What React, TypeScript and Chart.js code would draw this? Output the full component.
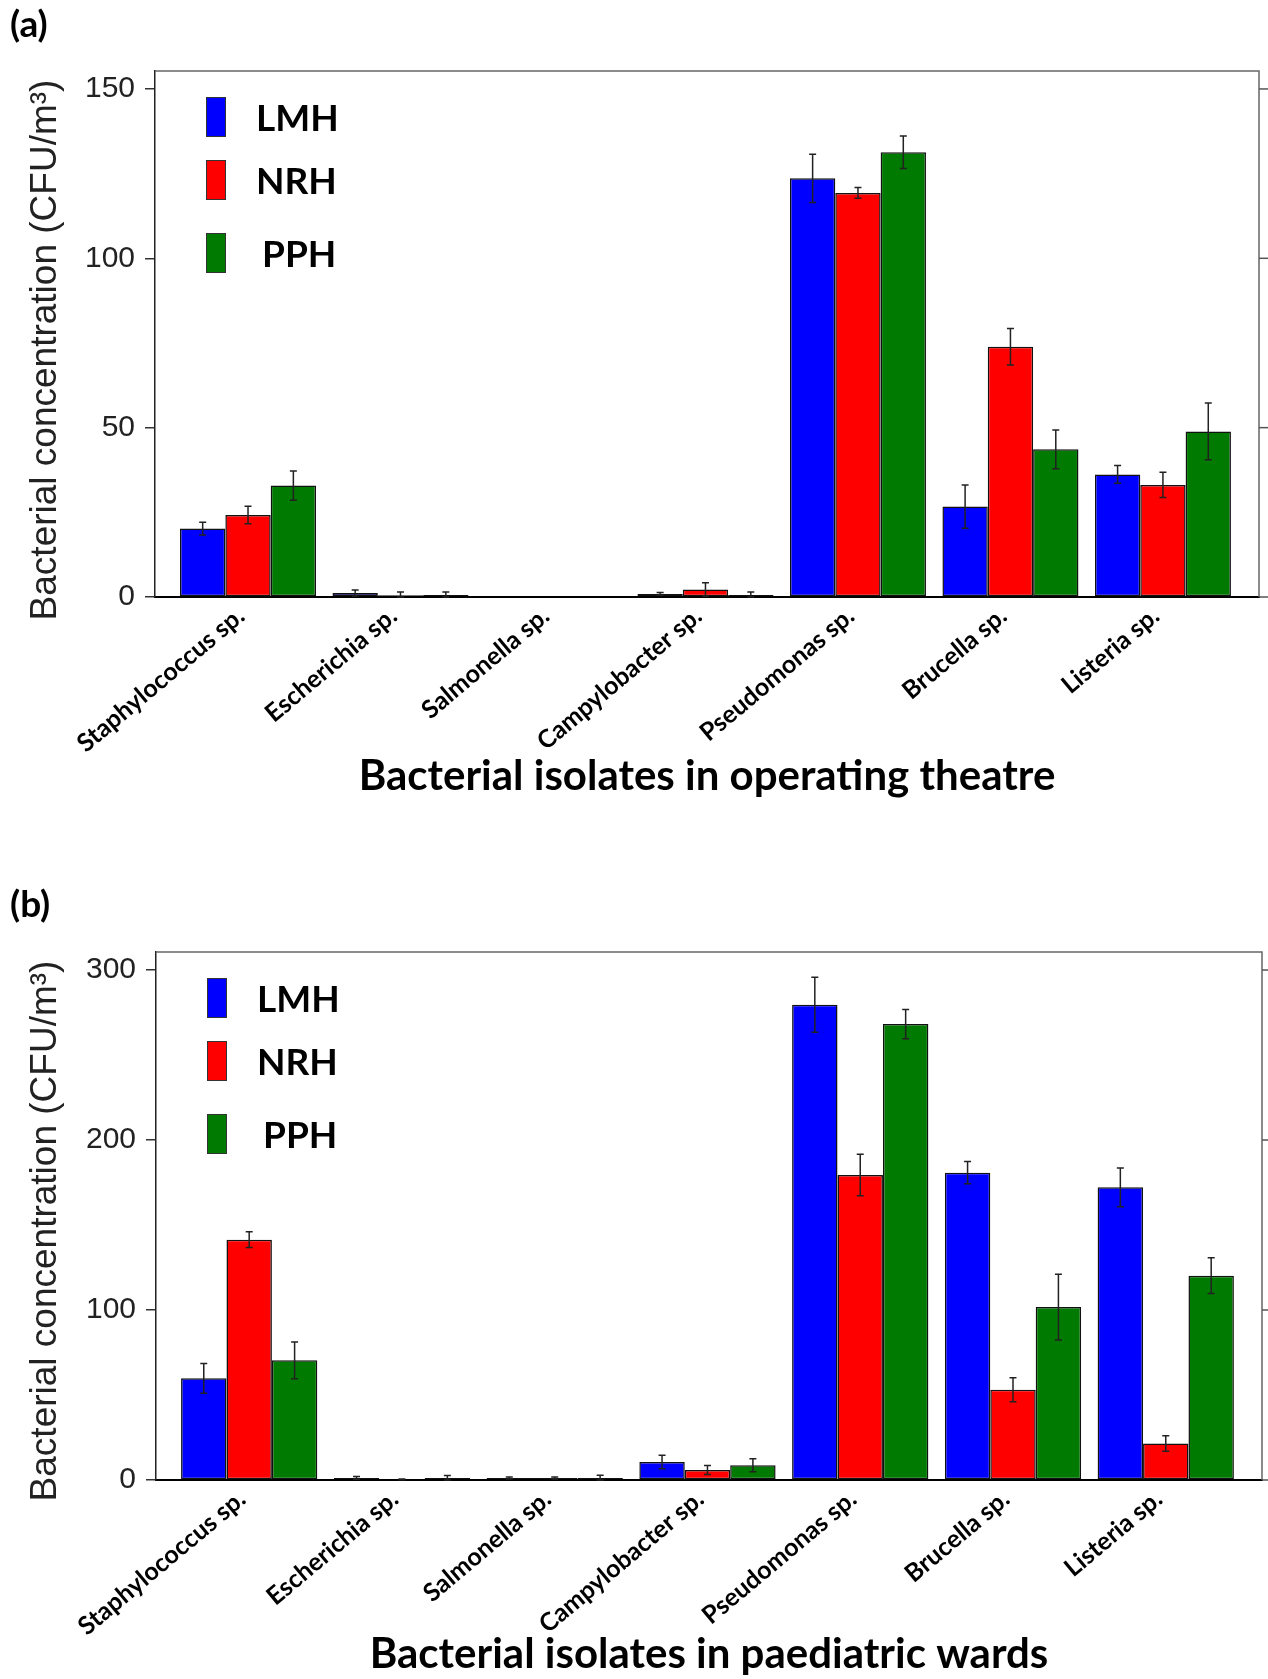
import React, { useEffect, useRef } from 'react';
import { Chart, registerables } from 'chart.js';

Chart.register(...registerables);

// ---------- data ----------
const categories = [
  'Staphylococcus sp.',
  'Escherichia sp.',
  'Salmonella sp.',
  'Campylobacter sp.',
  'Pseudomonas sp.',
  'Brucella sp.',
  'Listeria sp.',
];
const seriesNames = ['LMH', 'NRH', 'PPH'];
const seriesColors = ['#0000FF', '#FF0000', '#007A00'];

// (a) operating theatre
const theatreLMH = [20.2, 1.2, 0, 0.9, 123.6, 26.7, 36.2];
const theatreNRH = [24.2, 0.5, 0, 2.2, 119.3, 73.9, 33.1];
const theatrePPH = [32.9, 0.6, 0, 0.6, 131.3, 43.6, 48.9];
const theatreLMHErr = [1.9, 0.9, 0, 0.4, 7.1, 6.4, 2.6];
const theatreNRHErr = [2.6, 1.0, 0, 2.0, 1.6, 5.4, 3.7];
const theatrePPHErr = [4.3, 0.9, 0, 0.9, 4.8, 5.7, 8.4];
const theatreTicks = [0, 50, 100, 150];

// (b) paediatric wards
const wardsLMH = [59.8, 1.2, 1.2, 10.6, 279.6, 180.8, 172.2];
const wardsNRH = [141.4, 0.4, 1.2, 5.9, 179.4, 53.1, 21.5];
const wardsPPH = [70.4, 1.2, 1.2, 8.7, 268.2, 101.7, 120.2];
const wardsLMHErr = [8.7, 0.8, 0.6, 4.0, 16.2, 6.6, 11.4];
const wardsNRHErr = [4.6, 0.2, 0.6, 2.7, 12.2, 7.0, 4.6];
const wardsPPHErr = [10.8, 1.5, 1.6, 3.8, 8.6, 19.4, 10.5];
const wardsTicks = [0, 100, 200, 300];

const yTitle = 'Bacterial concentration (CFU/m\u00B3)';

type Spec = {
  tag: string;
  xTitle: string;
  values: number[][];
  errors: number[][];
  yTicks: number[];
  yMax: number;
  top: number;
  height: number;
  area: { left: number; right: number; top: number; bottom: number };
  xMin: number;
  xMax: number;
  tagY: number;
  titleY: number;
  yTitleY: number;
};

const W = 1268;
const X_AXIS_H = 190;

const panels: Spec[] = [
  {
    tag: '(a)',
    xTitle: 'Bacterial isolates in operating theatre',
    values: [theatreLMH, theatreNRH, theatrePPH],
    errors: [theatreLMHErr, theatreNRHErr, theatrePPHErr],
    yTicks: theatreTicks,
    yMax: 155.3,
    top: 0,
    height: 820,
    area: { left: 155, right: 1259, top: 71, bottom: 597 },
    xMin: -0.61,
    xMax: 6.63,
    tagY: 37,
    titleY: 790,
    yTitleY: 350,
  },
  {
    tag: '(b)',
    xTitle: 'Bacterial isolates in paediatric wards',
    values: [wardsLMH, wardsNRH, wardsPPH],
    errors: [wardsLMHErr, wardsNRHErr, wardsPPHErr],
    yTicks: wardsTicks,
    yMax: 310.6,
    top: 820,
    height: 859,
    area: { left: 156, right: 1262, top: 132, bottom: 660 },
    xMin: -0.61,
    xMax: 6.63,
    tagY: 97,
    titleY: 848,
    yTitleY: 411,
  },
];

function makeDecor(spec: Spec) {
  return {
    id: 'decor',
    afterDatasetsDraw(chart: any) {
      const ctx = chart.ctx;
      const ys = chart.scales.y;
      ctx.save();
      ctx.strokeStyle = '#222';
      ctx.lineWidth = 1.5;
      chart.data.datasets.forEach((_ds: any, s: number) => {
        const meta = chart.getDatasetMeta(s);
        meta.data.forEach((el: any, i: number) => {
          const v = spec.values[s][i];
          const e = spec.errors[s][i];
          if (!e) return;
          const x = el.x;
          const yHi = ys.getPixelForValue(v + e);
          const yLo = ys.getPixelForValue(Math.max(0, v - e));
          ctx.beginPath();
          ctx.moveTo(x, yHi);
          ctx.lineTo(x, yLo);
          ctx.moveTo(x - 3.5, yHi);
          ctx.lineTo(x + 3.5, yHi);
          ctx.moveTo(x - 3.5, yLo);
          ctx.lineTo(x + 3.5, yLo);
          ctx.stroke();
        });
      });
      ctx.restore();
    },
    afterDraw(chart: any) {
      const ctx = chart.ctx;
      const a = chart.chartArea;
      const ys = chart.scales.y;
      ctx.save();
      // frame (top + right)
      ctx.strokeStyle = '#666';
      ctx.lineWidth = 1.5;
      ctx.beginPath();
      ctx.moveTo(a.left, a.top);
      ctx.lineTo(a.right, a.top);
      ctx.lineTo(a.right, a.bottom);
      ctx.stroke();
      // right outward ticks
      ctx.strokeStyle = '#555';
      spec.yTicks.forEach((t) => {
        const y = ys.getPixelForValue(t);
        ctx.beginPath();
        ctx.moveTo(a.right, y);
        ctx.lineTo(a.right + 10, y);
        ctx.stroke();
      });

      // legend
      const boxTops = [26, 89, 162];
      const textOff = [30, 30, 36];
      ctx.font = 'bold 37px Lato';
      ctx.textBaseline = 'middle';
      ctx.textAlign = 'left';
      seriesNames.forEach((name, s) => {
        const bx = a.left + 51;
        const by = a.top + boxTops[s];
        ctx.fillStyle = seriesColors[s];
        ctx.fillRect(bx, by, 20, 40);
        ctx.strokeStyle = '#333';
        ctx.lineWidth = 1;
        ctx.strokeRect(bx + 0.5, by + 0.5, 19, 39);
        ctx.fillStyle = '#000';
        ctx.fillText(name, bx + 20 + textOff[s], by + 22);
      });

      // panel tag
      ctx.font = 'bold 37px Lato';
      ctx.textBaseline = 'alphabetic';
      ctx.fillStyle = '#000';
      ctx.fillText(spec.tag, 10, spec.tagY);

      // x title
      ctx.font = 'bold 42px Lato';
      ctx.textAlign = 'center';
      ctx.fillText(spec.xTitle, (a.left + a.right) / 2, spec.titleY);

      // y title
      ctx.save();
      ctx.translate(56, spec.yTitleY);
      ctx.rotate(-Math.PI / 2);
      ctx.font = '37px "Liberation Sans"';
      ctx.fillStyle = '#222';
      ctx.textAlign = 'center';
      ctx.textBaseline = 'alphabetic';
      ctx.fillText(yTitle, 0, 0);
      ctx.restore();

      ctx.restore();
    },
  };
}

function Panel({ spec }: { spec: Spec }) {
  const ref = useRef<HTMLCanvasElement | null>(null);
  useEffect(() => {
    if (!ref.current) return;
    const a = spec.area;
    const chart = new Chart(ref.current, {
      type: 'bar',
      data: {
        datasets: seriesNames.map((name, s) => ({
          label: name,
          data: spec.values[s].map((v, i) => ({ x: i, y: v })),
          backgroundColor: seriesColors[s],
          borderColor: '#111',
          borderWidth: 1.5,
          borderSkipped: false,
          categoryPercentage: 0.892,
          barPercentage: 1,
        })),
      } as any,
      options: {
        responsive: false,
        maintainAspectRatio: false,
        animation: false,
        events: [],
        layout: {
          padding: {
            left: 0,
            top: a.top,
            right: W - a.right,
            bottom: Math.max(0, spec.height - a.bottom - X_AXIS_H),
          },
        },
        plugins: { legend: { display: false }, tooltip: { enabled: false } },
        scales: {
          x: {
            type: 'linear',
            min: spec.xMin,
            max: spec.xMax,
            offset: false,
            afterBuildTicks: (ax: any) => {
              ax.ticks = categories.map((_, i) => ({ value: i }));
            },
            afterFit: (sc: any) => {
              sc.height = X_AXIS_H;
            },
            grid: { display: true, drawOnChartArea: false, drawTicks: false, offset: false },
            border: { display: true, color: '#000', width: 2 },
            ticks: {
              autoSkip: false,
              minRotation: 40,
              maxRotation: 40,
              padding: 4,
              labelOffset: -7,
              color: '#000',
              font: { family: 'Lato', weight: 'bold', size: 25 },
              callback: (v: any) => categories[Math.round(Number(v))] ?? '',
            },
          },
          y: {
            type: 'linear',
            position: 'left',
            min: 0,
            max: spec.yMax,
            afterBuildTicks: (ax: any) => {
              ax.ticks = spec.yTicks.map((v) => ({ value: v }));
            },
            afterFit: (sc: any) => {
              sc.width = a.left;
            },
            grid: { drawOnChartArea: false, drawTicks: true, tickLength: 10, color: '#333', lineWidth: 1.5 },
            border: { display: true, color: '#222', width: 1.5 },
            ticks: {
              padding: 10,
              color: '#222',
              font: { family: 'Liberation Sans', size: 30 },
            },
          },
        },
      } as any,
      plugins: [makeDecor(spec)],
    });
    return () => chart.destroy();
  }, [spec]);
  return (
    <canvas
      ref={ref}
      width={W}
      height={spec.height}
      style={{ position: 'absolute', left: 0, top: spec.top, width: W, height: spec.height, display: 'block' }}
    />
  );
}

export default function App() {
  return (
    <div style={{ position: 'absolute', left: 0, top: 0, width: W, height: 1679, background: '#fff', overflow: 'hidden' }}>
      {panels.map((p) => (
        <Panel key={p.tag} spec={p} />
      ))}
    </div>
  );
}
